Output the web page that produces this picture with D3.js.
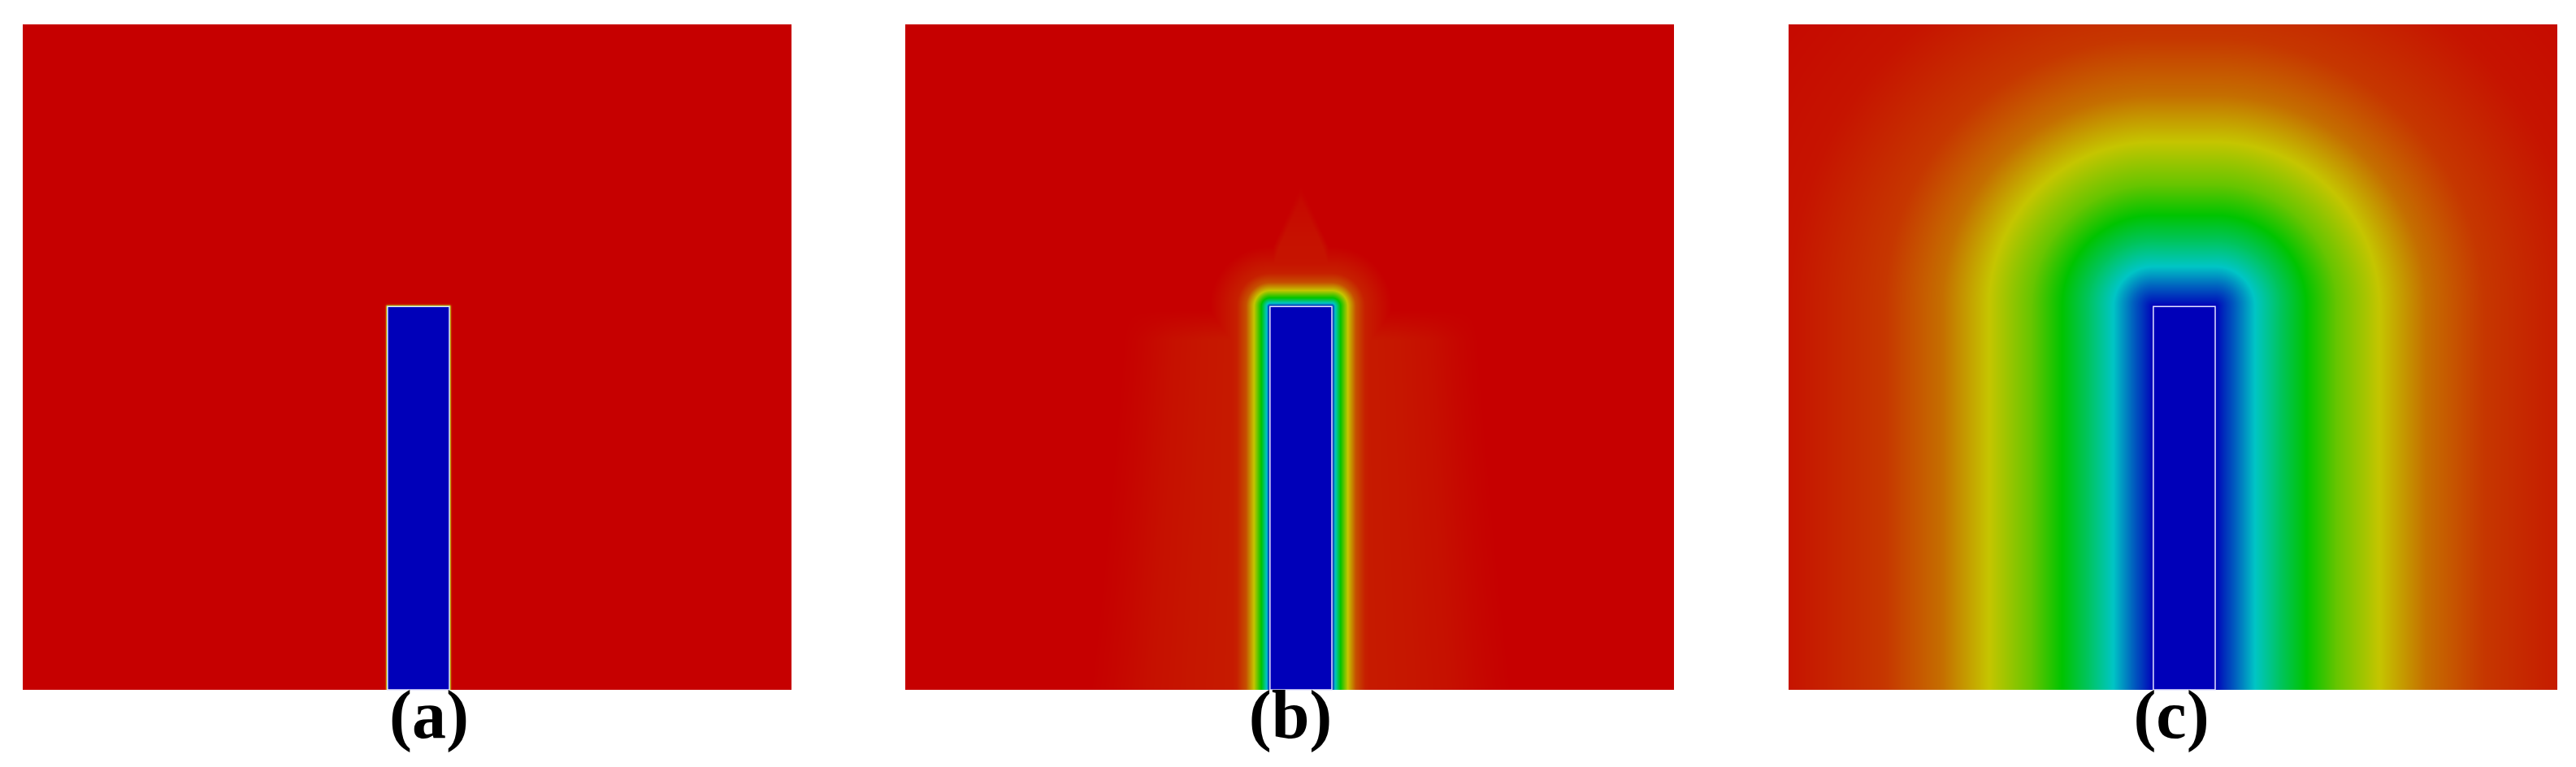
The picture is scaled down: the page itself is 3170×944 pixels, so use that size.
<!DOCTYPE html>
<html>
<head>
<meta charset="utf-8">
<script src="https://cdn.jsdelivr.net/npm/d3@7"></script>
<style>
html, body { margin: 0; padding: 0; background: #ffffff; }
svg { display: block; }
</style>
</head>
<body>
<script>
// ---------------- DATA (domain units) ----------------
const panelLabels = ["(a)", "(b)", "(c)"];
const domainX = [0, 11.55];
const domainY = [0, 10];
const obstacleX = [5.48, 6.41];
const obstacleY = [0, 5.76];

// colour map: field value -> colour
const colorStops = [0, 0.25, 0.5, 0.75, 1];
const colorValues = ["#0000b9", "#00c5c5", "#00c400", "#c5c500", "#c60000"];

// field value as a function of distance from the obstacle
const profileADist = [0, 0.012, 0.024, 0.04, 0.06];
const profileAVal  = [0.45, 0.72, 0.92, 0.99, 1];

const profileBDist = [0, 0.05, 0.13, 0.24, 0.36, 0.5, 0.9];
const profileBVal  = [0, 0.25, 0.5, 0.75, 0.9, 0.96, 1];

const profileCDist = [0, 0.12, 0.31, 0.6, 0.98, 1.37, 1.83, 2.47, 3.17, 4.03, 5.48, 7.33];
const profileCVal  = [0, 0.05, 0.125, 0.25, 0.38, 0.5, 0.63, 0.75, 0.86, 0.93, 0.975, 0.992];

// faint wake in panel (b): beside the obstacle
const wakeSideOffset = [0, 0.5, 1.2, 1.8, 2.3, 2.7];
const wakeSideValue  = [0.962, 0.966, 0.972, 0.98, 0.992, 1];
const wakeSpreadHeight = [0, 5.76];
const wakeSpreadScale  = [1, 1.25];
const wakeFadeHeight = [5.25, 5.7];
// faint wake in panel (b): tip above the obstacle (height above obstacle top)
const wakeTipHeight    = [-0.4, 0, 0.9, 1.6, 1.85];
const wakeTipHalfWidth = [0.85, 0.72, 0.42, 0.1, 0];
const wakeTipStrength  = [1, 1, 0.85, 0.4, 0];
const wakeTipValue = 0.972;

// ---------------- LAYOUT ----------------
const width = 3170, height = 944;
const panelW = 946, panelH = 819, panelTop = 30;
const panelLeft = [28, 1114, 2201];
const labelCenter = [528, 1588, 2672];
const labelBaseline = 908;

const x = d3.scaleLinear().domain(domainX).range([0, panelW]);
const y = d3.scaleLinear().domain(domainY).range([panelH, 0]);

const color = d3.scaleLinear().domain(colorStops).range(colorValues).clamp(true);
const LUTN = 2048;
const lut = d3.range(LUTN + 1).map(k => d3.rgb(color(k / LUTN)));

const profA = d3.scaleLinear().domain(profileADist).range(profileAVal).clamp(true);
const profB = d3.scaleLinear().domain(profileBDist).range(profileBVal).clamp(true);
const profC = d3.scaleLinear().domain(profileCDist).range(profileCVal).clamp(true);

const sideScale = d3.scaleLinear().domain(wakeSideOffset).range(wakeSideValue).clamp(true);
const spread = d3.scaleLinear().domain(wakeSpreadHeight).range(wakeSpreadScale).clamp(true);
const fade = d3.scaleLinear().domain(wakeFadeHeight).range([1, 0]).clamp(true);
const tipHalf = d3.scaleLinear().domain(wakeTipHeight).range(wakeTipHalfWidth).clamp(true);
const tipStr = d3.scaleLinear().domain(wakeTipHeight).range(wakeTipStrength).clamp(true);
const obstacleCx = (obstacleX[0] + obstacleX[1]) / 2;

function dist(px, py) {
  const dx = Math.max(obstacleX[0] - px, 0, px - obstacleX[1]);
  const dy = Math.max(py - obstacleY[1], 0, obstacleY[0] - py);
  return Math.hypot(dx, dy);
}

function wakeB(px, py) {
  const dx = Math.max(obstacleX[0] - px, px - obstacleX[1], 0);
  const side = 1 - fade(py) * (1 - sideScale(dx * spread(py)));
  const dyTop = py - obstacleY[1];
  const hw = tipHalf(dyTop);
  const off = Math.abs(px - obstacleCx);
  const edge = Math.max(0, Math.min(1, (hw - off) / 0.1));
  const tip = 1 - edge * tipStr(dyTop) * (1 - wakeTipValue);
  return Math.min(side, tip);
}

const fields = [
  (px, py) => profA(dist(px, py)),
  (px, py) => Math.min(profB(dist(px, py)), wakeB(px, py)),
  (px, py) => profC(dist(px, py))
];

function fieldImage(valueAt) {
  const canvas = document.createElement("canvas");
  canvas.width = panelW; canvas.height = panelH;
  const ctx = canvas.getContext("2d");
  const img = ctx.createImageData(panelW, panelH);
  const data = img.data;
  const xs = new Float64Array(panelW), ys = new Float64Array(panelH);
  for (let i = 0; i < panelW; i++) xs[i] = x.invert(i + 0.5);
  for (let j = 0; j < panelH; j++) ys[j] = y.invert(j + 0.5);
  let p = 0;
  for (let j = 0; j < panelH; j++) {
    for (let i = 0; i < panelW; i++) {
      let t = valueAt(xs[i], ys[j]);
      t = Math.max(0, Math.min(1, t));
      const c = lut[Math.round(t * LUTN)];
      data[p++] = c.r; data[p++] = c.g; data[p++] = c.b; data[p++] = 255;
    }
  }
  ctx.putImageData(img, 0, 0);
  return canvas.toDataURL("image/png");
}

const svg = d3.select("body").append("svg")
  .attr("width", width).attr("height", height)
  .attr("viewBox", `0 0 ${width} ${height}`);

svg.append("rect").attr("width", width).attr("height", height).attr("fill", "#ffffff");

panelLabels.forEach((label, k) => {
  const g = svg.append("g").attr("transform", `translate(${panelLeft[k]},${panelTop})`);
  g.append("image")
    .attr("x", 0).attr("y", 0)
    .attr("width", panelW).attr("height", panelH)
    .attr("preserveAspectRatio", "none")
    .attr("href", fieldImage(fields[k]));
  g.append("rect")
    .attr("x", x(obstacleX[0]))
    .attr("y", y(obstacleY[1]))
    .attr("width", x(obstacleX[1]) - x(obstacleX[0]))
    .attr("height", y(obstacleY[0]) - y(obstacleY[1]))
    .attr("fill", colorValues[0])
    .attr("stroke", "#e4e4ff")
    .attr("stroke-width", 1.5);
  svg.append("text")
    .attr("x", labelCenter[k])
    .attr("y", labelBaseline)
    .attr("text-anchor", "middle")
    .attr("font-family", "'Liberation Serif', 'DejaVu Serif', serif")
    .attr("font-weight", "bold")
    .attr("font-size", 84)
    .attr("fill", "#000000")
    .text(label);
});
</script>
</body>
</html>
